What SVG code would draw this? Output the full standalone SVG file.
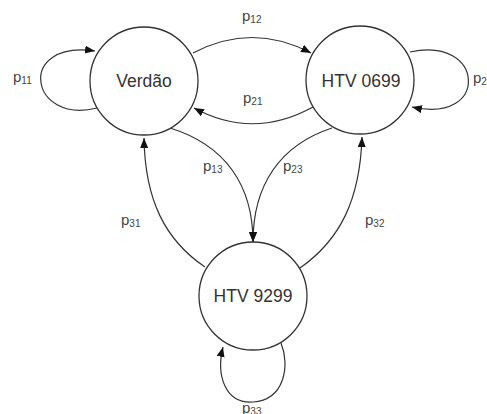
<svg xmlns="http://www.w3.org/2000/svg" width="487" height="414" viewBox="0 0 487 414">
<style>
.node{fill:#fff;stroke:#333;stroke-width:1.3}
.name{font-family:"Liberation Sans",Arial,sans-serif;font-size:17.5px;fill:#333;text-anchor:middle}
.lbl{font-family:"Liberation Sans",Arial,sans-serif;font-size:15px;fill:#444}
.sub{font-size:10px}
.edge{fill:none;stroke:#333;stroke-width:1.2;marker-end:url(#arr)}
</style>
<defs>
<marker id="arr" markerUnits="userSpaceOnUse" markerWidth="11" markerHeight="9" refX="10" refY="4" orient="auto">
<path d="M0,0 L10,4 L0,8 z" fill="#111"/>
</marker>
</defs>
<rect width="487" height="414" fill="#fff"/>
<g id="connectors">
<path class="edge" d="M97,108 C30,125 15,40 95,51"/>
<path class="edge" d="M193,53 Q252,22 311,53"/>
<path class="edge" d="M313,107 Q253,140 194,108"/>
<path class="edge" d="M410,52 C485,35 490,125 412,107"/>
<path class="edge" d="M170,128 C225,145 253,185 253,242"/>
<path class="edge" d="M332,128 C280,145 253,185 253,242"/>
<path class="edge" d="M205,267 C165,240 145,200 144,138"/>
<path class="edge" d="M300,268 C340,240 360,200 362,137"/>
<path class="edge" d="M281,343 C290,365 285,400 253,402 C225,404 216,375 223,347"/>
</g>
<g id="labels">
<text class="lbl" x="13" y="82">p<tspan class="sub" dy="2">11</tspan></text>
<text class="lbl" x="242" y="21">p<tspan class="sub" dy="2">12</tspan></text>
<text class="lbl" x="243" y="103">p<tspan class="sub" dy="2">21</tspan></text>
<text class="lbl" x="473" y="83">p<tspan class="sub" dy="2">2</tspan></text>
<text class="lbl" x="203" y="171">p<tspan class="sub" dy="2">13</tspan></text>
<text class="lbl" x="283" y="171">p<tspan class="sub" dy="2">23</tspan></text>
<text class="lbl" x="121" y="225">p<tspan class="sub" dy="2">31</tspan></text>
<text class="lbl" x="365" y="225">p<tspan class="sub" dy="2">32</tspan></text>
<text class="lbl" x="242" y="413">p<tspan class="sub" dy="2">33</tspan></text>
</g>
<g id="verdao">
<circle class="node" cx="144" cy="81" r="54"/>
<text class="name" x="144" y="87">Verdão</text>
</g>
<g id="htv0699">
<circle class="node" cx="360" cy="80" r="54"/>
<text class="name" x="361" y="87">HTV 0699</text>
</g>
<g id="htv9299">
<circle class="node" cx="253" cy="296" r="54"/>
<text class="name" x="253" y="302">HTV 9299</text>
</g>
</svg>
